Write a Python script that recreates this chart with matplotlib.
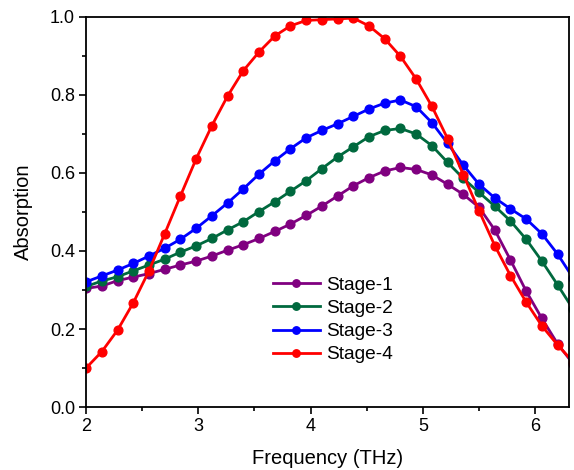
import matplotlib
matplotlib.use("Agg")
import matplotlib.pyplot as plt
from matplotlib.ticker import MultipleLocator
import numpy as np

plt.rcParams['font.family'] = ['Liberation Sans', 'DejaVu Sans']

# frequency grid (THz), step 0.14
freq = [2.00, 2.14, 2.28, 2.42, 2.56, 2.70, 2.84, 2.98, 3.12, 3.26, 3.40,
        3.54, 3.68, 3.82, 3.96, 4.10, 4.24, 4.38, 4.52, 4.66, 4.80, 4.94,
        5.08, 5.22, 5.36, 5.50, 5.64, 5.78, 5.92, 6.06, 6.20, 6.34]

stage1 = [0.304, 0.310, 0.324, 0.333, 0.342, 0.353, 0.364, 0.374, 0.387, 0.402, 0.416,
          0.432, 0.450, 0.469, 0.491, 0.515, 0.541, 0.567, 0.588, 0.605, 0.614, 0.609,
          0.595, 0.571, 0.545, 0.512, 0.454, 0.377, 0.297, 0.227, 0.162, 0.110]
stage2 = [0.309, 0.323, 0.334, 0.349, 0.364, 0.379, 0.397, 0.413, 0.432, 0.454, 0.475,
          0.501, 0.526, 0.553, 0.580, 0.611, 0.641, 0.667, 0.693, 0.709, 0.714, 0.700,
          0.670, 0.627, 0.586, 0.550, 0.515, 0.477, 0.430, 0.374, 0.313, 0.250]
stage3 = [0.321, 0.336, 0.351, 0.368, 0.387, 0.407, 0.430, 0.458, 0.490, 0.523, 0.559,
          0.597, 0.631, 0.662, 0.690, 0.709, 0.726, 0.745, 0.764, 0.779, 0.787, 0.770,
          0.729, 0.676, 0.620, 0.571, 0.536, 0.508, 0.482, 0.444, 0.392, 0.330]
stage4 = [0.100, 0.142, 0.197, 0.267, 0.349, 0.444, 0.541, 0.636, 0.721, 0.797, 0.862,
          0.910, 0.951, 0.977, 0.991, 0.993, 0.995, 0.997, 0.977, 0.944, 0.899, 0.841,
          0.771, 0.688, 0.596, 0.503, 0.414, 0.337, 0.269, 0.208, 0.159, 0.115]

fig = plt.figure(figsize=(5.74, 4.70), dpi=100)
ax = fig.add_axes([0.150, 0.134, 0.841, 0.830])

ax.plot(freq, stage1, "o-", color="#800080", lw=2, ms=6.3, label="Stage-1")
ax.plot(freq, stage2, "o-", color="#00693E", lw=2, ms=6.3, label="Stage-2")
ax.plot(freq, stage3, "o-", color="#0000FF", lw=2, ms=6.3, label="Stage-3")
ax.plot(freq, stage4, "o-", color="#FF0000", lw=2, ms=6.3, label="Stage-4")

ax.set_xlim(2, 6.3)
ax.set_ylim(0, 1.0)
ax.xaxis.set_major_locator(MultipleLocator(1))
ax.xaxis.set_minor_locator(MultipleLocator(0.5))
ax.yaxis.set_major_locator(MultipleLocator(0.2))
ax.yaxis.set_minor_locator(MultipleLocator(0.1))
ax.yaxis.set_major_formatter(plt.FormatStrFormatter('%.1f'))
ax.tick_params(which='both', direction='out', top=False, right=False, labelsize=13, width=1.2)
ax.tick_params(which='major', length=5, pad=3)
ax.tick_params(which='minor', length=3)
for s in ax.spines.values():
    s.set_linewidth(1.3)

ax.set_xlabel("Frequency (THz)", fontsize=14.5, labelpad=10)
ax.set_ylabel("Absorption", fontsize=14.5, labelpad=12)

ax.legend(loc='center', bbox_to_anchor=(0.511, 0.223), frameon=False, fontsize=13.8,
          handlelength=2.45, labelspacing=0.3, handletextpad=0.3, markerscale=0.85)

fig.savefig("out.png", dpi=100)
